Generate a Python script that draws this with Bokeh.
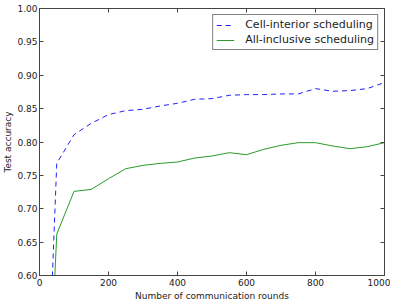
from bokeh.plotting import figure
from bokeh.models import LinearAxis, FixedTicker, Range1d
from bokeh.embed import file_html
from bokeh.resources import INLINE

rounds = [0, 50, 100, 150, 200, 250, 300, 350, 400, 450, 500, 550, 600, 650, 700, 750, 800, 850, 900, 950, 1000]
cell_interior = [0.10, 0.768, 0.811, 0.828, 0.841, 0.847, 0.849, 0.854, 0.858, 0.864, 0.865, 0.870, 0.871, 0.871, 0.872, 0.872, 0.880, 0.876, 0.877, 0.880, 0.889]
all_inclusive = [0.10, 0.662, 0.726, 0.729, 0.745, 0.760, 0.765, 0.768, 0.770, 0.776, 0.779, 0.784, 0.781, 0.789, 0.795, 0.799, 0.799, 0.794, 0.790, 0.793, 0.799]
x_ticks = [0, 200, 400, 600, 800, 1000]
y_ticks = [0.60, 0.65, 0.70, 0.75, 0.80, 0.85, 0.90, 0.95, 1.00]

FONT = "DejaVu Sans"
TXT = "#222222"
AX = "#444444"

p = figure(width=390, height=303, output_backend="svg", toolbar_location=None,
           x_range=Range1d(0, 1000), y_range=Range1d(0.60, 1.00),
           min_border_left=0, min_border_right=6, min_border_top=8, min_border_bottom=2)
p.background_fill_color = "white"
p.border_fill_color = "white"
p.outline_line_color = AX
p.grid.visible = False

p.line(rounds, cell_interior, line_color="#2020ff", line_width=1, line_dash="5 4",
       legend_label="Cell-interior scheduling")
p.line(rounds, all_inclusive, line_color="#2a9a2a", line_width=1,
       legend_label="All-inclusive scheduling")

for ax in p.xaxis:
    ax.ticker = FixedTicker(ticks=x_ticks)
    ax.axis_label = "Number of communication rounds"
for ax in p.yaxis:
    ax.ticker = FixedTicker(ticks=y_ticks)
    ax.axis_label = "Test accuracy"
    ax.major_label_overrides = {t: f"{t:.2f}" for t in y_ticks}

right_ax = LinearAxis(ticker=FixedTicker(ticks=y_ticks),
                      major_label_overrides={t: "" for t in y_ticks})
top_ax = LinearAxis(ticker=FixedTicker(ticks=x_ticks),
                    major_label_overrides={t: "" for t in x_ticks})
p.add_layout(right_ax, "right")
p.add_layout(top_ax, "above")

for ax in p.axis:
    ax.major_tick_in = 4
    ax.major_tick_out = 0
    ax.minor_tick_line_color = None
    ax.axis_line_color = AX
    ax.major_tick_line_color = AX
    ax.major_label_text_font = FONT
    ax.major_label_text_color = TXT
    ax.major_label_text_font_size = "9px"
    ax.axis_label_text_font = FONT
    ax.axis_label_text_font_style = "normal"
    ax.axis_label_text_color = TXT
    ax.axis_label_text_font_size = "9px"
    ax.major_label_standoff = 3
    ax.axis_label_standoff = 2

p.yaxis[0].axis_label_standoff = 1
p.yaxis[0].major_label_standoff = 2

for ax in (right_ax, top_ax):
    ax.major_label_standoff = 0
    ax.axis_label_standoff = 0

leg = p.legend[0]
leg.location = "top_right"
leg.border_line_color = "black"
leg.border_line_width = 1
leg.label_text_font = FONT
leg.label_text_font_size = "11px"
leg.label_text_color = TXT
leg.glyph_width = 18
leg.glyph_height = 12
leg.label_height = 12
leg.spacing = 2
leg.padding = 3
leg.margin = 6
leg.label_standoff = 11
leg.background_fill_alpha = 1

open("out.html", "w").write(file_html(p, INLINE))
